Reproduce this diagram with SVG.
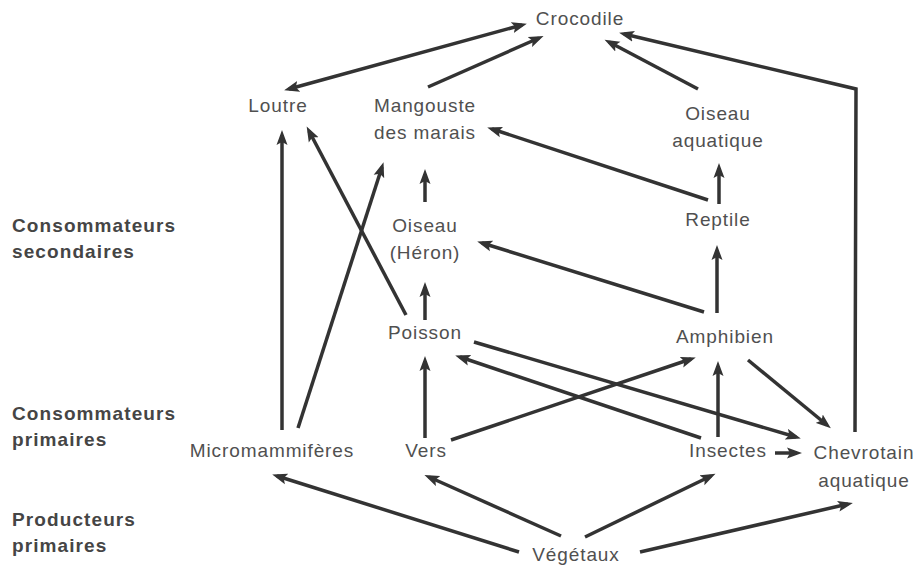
<svg xmlns="http://www.w3.org/2000/svg" width="924" height="572" viewBox="0 0 924 572">
<style>
.n{font-family:"Liberation Sans",Arial,sans-serif;font-size:19px;fill:#505050;text-anchor:middle;letter-spacing:0.9px}
.lv{font-family:"Liberation Sans",Arial,sans-serif;font-size:19px;font-weight:bold;fill:#454545;letter-spacing:1.1px}
.c line,.c polyline{stroke:#333;stroke-width:3.5;fill:none;marker-end:url(#ah)}
</style>
<defs>
<marker id="ah" markerUnits="userSpaceOnUse" markerWidth="16" markerHeight="12" viewBox="0 0 16 12" refX="10" refY="6" orient="auto-start-reverse">
<path d="M0,0.5 L15,6 L0,11.5 L3,6 z" fill="#333"/>
</marker>
</defs>
<rect width="924" height="572" fill="#fff"/>
<g id="levels">
<text class="lv" x="12" y="232">Consommateurs</text>
<text class="lv" x="12" y="258">secondaires</text>
<text class="lv" x="12" y="420">Consommateurs</text>
<text class="lv" x="12" y="446">primaires</text>
<text class="lv" x="12" y="526">Producteurs</text>
<text class="lv" x="12" y="552">primaires</text>
</g>
<g id="crocodile"><text class="n" x="580" y="25">Crocodile</text></g>
<g id="loutre"><text class="n" x="278" y="112">Loutre</text></g>
<g id="mangouste"><text class="n" x="425" y="112">Mangouste</text><text class="n" x="425" y="139">des marais</text></g>
<g id="oiseau-aquatique"><text class="n" x="718" y="120">Oiseau</text><text class="n" x="718" y="147">aquatique</text></g>
<g id="reptile"><text class="n" x="718" y="226">Reptile</text></g>
<g id="heron"><text class="n" x="425" y="232">Oiseau</text><text class="n" x="425" y="259">(Héron)</text></g>
<g id="poisson"><text class="n" x="425" y="339">Poisson</text></g>
<g id="amphibien"><text class="n" x="725" y="343">Amphibien</text></g>
<g id="micromammiferes"><text class="n" x="272" y="457">Micromammifères</text></g>
<g id="vers"><text class="n" x="426" y="457">Vers</text></g>
<g id="insectes"><text class="n" x="728" y="457">Insectes</text></g>
<g id="chevrotain"><text class="n" x="864" y="459">Chevrotain</text><text class="n" x="864" y="487">aquatique</text></g>
<g id="vegetaux"><text class="n" x="576" y="561">Végétaux</text></g>
<g id="connectors" class="c">
<line x1="289" y1="89" x2="522" y2="25" style="marker-start:url(#ah)"/>
<line x1="428" y1="87" x2="539" y2="38"/>
<line x1="698" y1="89" x2="609" y2="42"/>
<polyline points="855,432 856,89 624,34"/>
<line x1="708" y1="200" x2="492" y2="129"/>
<line x1="719" y1="204" x2="719" y2="168"/>
<line x1="425" y1="202" x2="425" y2="174"/>
<line x1="282" y1="430" x2="282" y2="135"/>
<line x1="406" y1="315" x2="309" y2="131"/>
<line x1="298" y1="428" x2="382" y2="167"/>
<line x1="425" y1="320" x2="425" y2="287"/>
<line x1="704" y1="312" x2="482" y2="243"/>
<line x1="717" y1="313" x2="717" y2="250"/>
<line x1="474" y1="342" x2="796" y2="437"/>
<line x1="701" y1="438" x2="460" y2="357"/>
<line x1="451" y1="440" x2="691" y2="359"/>
<line x1="425" y1="438" x2="425" y2="361"/>
<line x1="718" y1="437" x2="718" y2="366"/>
<line x1="748" y1="360" x2="827" y2="425"/>
<line x1="775" y1="453" x2="797" y2="453"/>
<line x1="519" y1="552" x2="277" y2="476"/>
<line x1="561" y1="536" x2="429" y2="477"/>
<line x1="585" y1="537" x2="711" y2="476"/>
<line x1="640" y1="552" x2="848" y2="504"/>
</g>
</svg>
